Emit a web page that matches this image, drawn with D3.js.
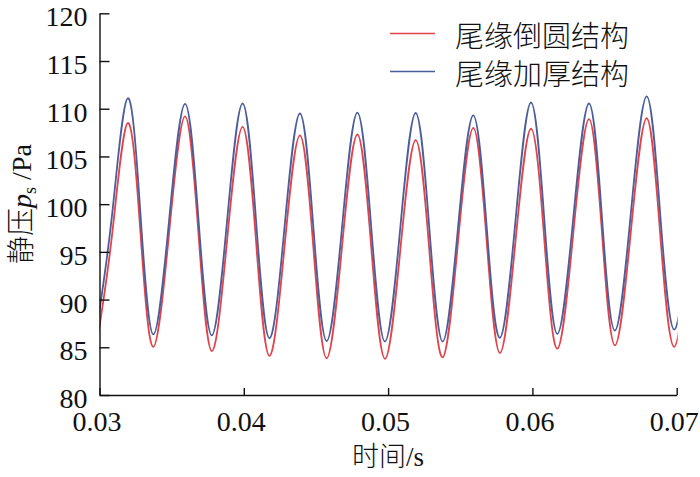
<!DOCTYPE html>
<html>
<head>
<meta charset="utf-8">
<script src="https://cdn.jsdelivr.net/npm/d3@7/dist/d3.min.js"></script>
<style>
  html, body { margin: 0; padding: 0; background: #fff; }
  svg { display: block; }
</style>
</head>
<body>
<svg id="chart" width="700" height="477"></svg>
<script>
// ---- data (first/last points lie just outside the frame and are clipped) ----
const time = [
  0.0298, 0.03088,
  0.03196, 0.03285, 0.03373, 0.03483,
  0.03593, 0.03686, 0.03778, 0.03885,
  0.03992, 0.04085, 0.04177, 0.04283,
  0.04389, 0.04482, 0.04574, 0.04681,
  0.04787, 0.04883, 0.04978, 0.05085,
  0.05191, 0.05285, 0.05378, 0.05484,
  0.05590, 0.05683, 0.05775, 0.05883,
  0.05990, 0.06082, 0.06173, 0.06283,
  0.06392, 0.06482, 0.06572, 0.06682,
  0.06792, 0.06885, 0.06982, 0.07090
];
const roundedEdge = [   // 尾缘倒圆结构
  85.3, 96.9,
  108.5, 96.8, 85.05, 97.1,
  109.2, 96.9, 84.6, 96.35,
  108.1, 96.1, 84.1, 95.65,
  107.2, 95.5, 83.85, 95.6,
  107.3, 95.55, 83.8, 95.25,
  106.7, 95.3, 83.95, 96.0,
  108.0, 96.2, 84.4, 96.15,
  107.9, 96.4, 84.85, 96.9,
  108.9, 97.05, 85.2, 97.1,
  109.0, 97.0, 85.05, 96.8
];
const thickEdge = [     // 尾缘加厚结构
  86.9, 99.0,
  111.1, 98.7, 86.35, 98.4,
  110.5, 98.4, 86.25, 98.4,
  110.55, 98.25, 85.95, 97.7,
  109.5, 97.6, 85.65, 97.6,
  109.6, 97.6, 85.6, 97.6,
  109.55, 97.6, 85.6, 97.45,
  109.3, 97.65, 86.0, 98.3,
  110.65, 98.5, 86.4, 98.5,
  110.55, 98.65, 86.75, 99.0,
  111.3, 99.1, 86.85, 98.6
];
const seriesNames = ["尾缘倒圆结构", "尾缘加厚结构"];
const seriesColors = ["#e2434a", "#4a5e9c"];
const xTicks = [0.03, 0.04, 0.05, 0.06, 0.07];
const yTicks = [80, 85, 90, 95, 100, 105, 110, 115, 120];

// ---- layout ----
const SERIF = "font-family:'Liberation Serif';";
const CJK = "font-family:'Noto Sans CJK SC';font-weight:300;";
const svg = d3.select("#chart");
const x = d3.scaleLinear().domain([0.03, 0.07]).range([99.5, 676.7]);
const y = d3.scaleLinear().domain([80, 120]).range([395, 13.3]);

svg.append("defs").append("clipPath").attr("id", "plot")
  .append("rect").attr("x", x(0.03)).attr("y", 0)
  .attr("width", x(0.07) - x(0.03) + 1).attr("height", 395);

// lines
const line = d3.line()
  .x(d => x(d[0]))
  .y(d => y(d[1]))
  .curve(d3.curveNatural);

const allSeries = [roundedEdge, thickEdge];
allSeries.forEach((vals, i) => {
  svg.append("path")
    .datum(time.map((t, k) => [t, vals[k]]))
    .attr("clip-path", "url(#plot)")
    .attr("fill", "none")
    .attr("stroke", seriesColors[i])
    .attr("stroke-width", 1.8)
    .attr("d", line);
});

// axes
const xAxis = svg.append("g")
  .attr("transform", "translate(0,395)")
  .call(d3.axisBottom(x).tickValues(xTicks).tickFormat(d3.format(".2f"))
        .tickSizeInner(-7).tickSizeOuter(0));
const yAxis = svg.append("g")
  .attr("transform", "translate(99.5,0)")
  .call(d3.axisLeft(y).tickValues(yTicks).tickFormat(d3.format("d"))
        .tickSizeInner(-10).tickSizeOuter(0));

[xAxis, yAxis].forEach(g => {
  g.attr("font-family", "Liberation Serif").attr("font-size", 28);
  g.select(".domain").attr("stroke", "#111").attr("stroke-width", 1.4);
  g.selectAll(".tick line").attr("stroke", "#111").attr("stroke-width", 1.4);
  g.selectAll(".tick text")
    .attr("fill", "#111")
    .attr("style", SERIF + "font-size:28px");
});
xAxis.selectAll(".tick text").attr("y", 35.5).attr("dy", null).attr("x", -3);
yAxis.selectAll(".tick text").attr("x", -12).attr("dy", null).attr("y", 12.5);

// axis titles
svg.append("text")
  .attr("x", 388).attr("y", 466)
  .attr("text-anchor", "middle")
  .attr("fill", "#111")
  .attr("style", "font-size:27px")
  .call(t => {
    t.append("tspan").attr("style", CJK).text("时间");
    t.append("tspan").attr("style", SERIF).text("/s");
  });

svg.append("text")
  .attr("transform", "translate(31,204) rotate(-90)")
  .attr("text-anchor", "middle")
  .attr("fill", "#111")
  .attr("style", "font-size:28px")
  .call(t => {
    t.append("tspan").attr("style", CJK).text("静压");
    t.append("tspan").attr("style", SERIF + "font-style:italic").text("p");
    t.append("tspan").attr("style", SERIF + "font-size:18px").attr("dy", 5).text("s");
    t.append("tspan").attr("style", SERIF).attr("dy", -5).text(" /Pa");
  });

// legend
const legendY = [33.5, 71.5];
seriesNames.forEach((name, i) => {
  svg.append("line")
    .attr("x1", 390).attr("x2", 435)
    .attr("y1", legendY[i]).attr("y2", legendY[i])
    .attr("stroke", seriesColors[i]).attr("stroke-width", 1.5);
  svg.append("text")
    .attr("x", 455).attr("y", legendY[i])
    .attr("dominant-baseline", "central")
    .attr("fill", "#111")
    .attr("style", CJK + "font-size:29px")
    .text(name);
});
</script>
</body>
</html>
